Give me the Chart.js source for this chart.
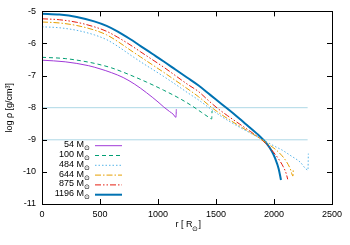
<!DOCTYPE html>
<html>
<head>
<meta charset="utf-8">
<script src="https://cdn.jsdelivr.net/npm/chart.js@4.4.1/dist/chart.umd.min.js"></script>
<style>
  html, body { margin: 0; padding: 0; background: #fff; }
  #wrap { width: 350px; height: 245px; }
</style>
</head>
<body>
<div id="wrap"><canvas id="densityChart" width="350" height="245"></canvas></div>
<script>
// masses shown in the legend (solar masses)
const masses = ['54', '100', '484', '644', '875', '1196'];

// r [R_sun] and log rho for each model
const r54 = [0, 200, 400, 500, 600, 700, 800, 900, 1000, 1050, 1100, 1130, 1155, 1158];
const rho54 = [-6.52, -6.57, -6.69, -6.79, -6.91, -7.06, -7.27, -7.53, -7.82, -7.98, -8.12, -8.2, -8.3, -8.05];

const r100 = [0, 200, 400, 500, 600, 759, 900, 1046, 1200, 1300, 1377, 1430, 1463, 1466];
const rho100 = [-6.43, -6.47, -6.58, -6.66, -6.76, -6.98, -7.2, -7.45, -7.74, -7.96, -8.15, -8.28, -8.35, -8.1];

const r484 = [0, 150, 300, 450, 557, 650, 759, 850, 950, 1050, 1150, 1250, 1350, 1440, 1550, 1660, 1780, 1880, 1940, 1994, 2070, 2138, 2224, 2293, 2296];
const rho484 = [-5.48, -5.51, -5.59, -5.73, -5.88, -6.08, -6.35, -6.57, -6.8, -7.03, -7.27, -7.52, -7.76, -8.0, -8.28, -8.52, -8.76, -8.95, -9.07, -9.18, -9.32, -9.48, -9.69, -9.94, -9.43];

const r644 = [0, 150, 300, 450, 557, 650, 759, 850, 950, 1050, 1150, 1250, 1350, 1465, 1570, 1680, 1790, 1880, 1930, 2023, 2070, 2109, 2140, 2164, 2166];
const rho644 = [-5.33, -5.36, -5.44, -5.58, -5.73, -5.93, -6.2, -6.42, -6.66, -6.9, -7.15, -7.4, -7.66, -8.0, -8.27, -8.52, -8.76, -8.96, -9.08, -9.33, -9.5, -9.69, -9.9, -10.13, -9.9];

const r875 = [0, 150, 300, 450, 557, 650, 759, 850, 950, 1050, 1150, 1250, 1350, 1430, 1500, 1600, 1700, 1800, 1880, 1930, 1994, 2040, 2080, 2105, 2118];
const rho875 = [-5.23, -5.26, -5.34, -5.48, -5.62, -5.8, -6.04, -6.26, -6.5, -6.74, -7.0, -7.26, -7.5, -7.76, -7.98, -8.25, -8.5, -8.75, -8.96, -9.12, -9.38, -9.6, -9.84, -10.05, -10.23];

const r1196 = [0, 150, 300, 450, 557, 650, 759, 850, 950, 1050, 1150, 1250, 1350, 1450, 1550, 1650, 1750, 1850, 1937, 1980, 2010, 2040, 2060];
const rho1196 = [-5.07, -5.1, -5.175, -5.31, -5.45, -5.62, -5.86, -6.08, -6.32, -6.56, -6.81, -7.06, -7.31, -7.6, -7.89, -8.18, -8.49, -8.8, -9.12, -9.35, -9.58, -9.9, -10.25];

// horizontal reference levels
const refLevels = [-8, -9];
const refRange = [0, 2290];

// axis ticks
const xTicks = [0, 500, 1000, 1500, 2000, 2500];
const yTicks = [-5, -6, -7, -8, -9, -10, -11];

const pts = (xs, ys) => xs.map((x, i) => ({ x: x, y: ys[i] }));
const FONT = '"Liberation Sans", Arial, sans-serif';

const curves = [
    { r: r54, rho: rho54, color: '#a03ad8', width: 1, dash: [] },
    { r: r100, rho: rho100, color: '#009e73', width: 1, dash: [4, 3] },
    { r: r484, rho: rho484, color: '#56b4e9', width: 1, dash: [1.5, 2] },
    { r: r644, rho: rho644, color: '#e69f00', width: 1, dash: [6, 2, 1.5, 2] },
    { r: r875, rho: rho875, color: '#e51e10', width: 1, dash: [6, 2, 1.5, 2, 1.5, 2] },
    { r: r1196, rho: rho1196, color: '#0072b2', width: 2, dash: [] }
];

const datasets = curves.map((c, i) => ({
    label: masses[i] + ' M',
    data: pts(c.r, c.rho),
    borderColor: c.color,
    borderWidth: c.width,
    borderDash: c.dash,
    pointRadius: 0,
    cubicInterpolationMode: 'monotone',
    fill: false
}));

refLevels.forEach(lv => {
    datasets.push({
        label: 'ref',
        data: refRange.map(x => ({ x: x, y: lv })),
        borderColor: '#add8e6',
        borderWidth: 1,
        pointRadius: 0,
        tension: 0,
        fill: false
    });
});

// frame, inward ticks, axis titles and legend like gnuplot
const gnuplotLook = {
    id: 'gnuplotLook',
    afterDraw(chart) {
        const ctx = chart.ctx;
        const a = chart.chartArea;
        const xs = chart.scales.x, ys = chart.scales.y;
        ctx.save();
        ctx.strokeStyle = '#000';
        ctx.lineWidth = 1;
        ctx.setLineDash([]);
        ctx.strokeRect(Math.round(a.left) + 0.5, Math.round(a.top) + 0.5,
            Math.round(a.right - a.left), Math.round(a.bottom - a.top));
        ctx.beginPath();
        xTicks.forEach(v => {
            const px = Math.round(xs.getPixelForValue(v)) + 0.5;
            ctx.moveTo(px, a.bottom); ctx.lineTo(px, a.bottom - 5);
            ctx.moveTo(px, a.top); ctx.lineTo(px, a.top + 5);
        });
        yTicks.forEach(v => {
            const py = Math.round(ys.getPixelForValue(v)) + 0.5;
            ctx.moveTo(a.left, py); ctx.lineTo(a.left + 5, py);
            ctx.moveTo(a.right, py); ctx.lineTo(a.right - 5, py);
        });
        ctx.stroke();

        ctx.fillStyle = '#000';
        ctx.textBaseline = 'middle';
        // x title
        const cx = (a.left + a.right) / 2;
        const mainX = 'r [ R';
        ctx.font = '9px ' + FONT;
        const w1 = ctx.measureText(mainX).width;
        ctx.font = '7px ' + FONT;
        const w2 = ctx.measureText('\u2299').width;
        const sx = cx - (w1 + w2) / 2;
        ctx.font = '9px ' + FONT;
        ctx.textAlign = 'left';
        ctx.fillText(mainX, sx, 225);
        ctx.font = '7px ' + FONT;
        ctx.fillText('\u2299', sx + w1, 229);
        ctx.font = '9px ' + FONT;
        ctx.fillText(']', sx + w1 + w2, 225);

        // y title
        ctx.save();
        ctx.translate(10, (a.top + a.bottom) / 2);
        ctx.rotate(-Math.PI / 2);
        ctx.textAlign = 'center';
        ctx.font = '9px ' + FONT;
        ctx.fillText('log \u03c1 [g/cm\u00b3]', 0, 0);
        ctx.restore();

        // legend
        const textRight = 90;
        for (let i = 0; i < curves.length; i++) {
            const ds = chart.data.datasets[i];
            const y = 145.7 + 9.8 * i;
            ctx.font = '7px ' + FONT;
            const ws = ctx.measureText('\u2299').width;
            ctx.font = '9px ' + FONT;
            ctx.textAlign = 'right';
            ctx.textBaseline = 'middle';
            ctx.fillStyle = '#000';
            ctx.fillText(ds.label, textRight - ws, y - 1);
            ctx.font = '7px ' + FONT;
            ctx.textAlign = 'left';
            ctx.fillText('\u2299', textRight - ws, y + 2.5);
            ctx.beginPath();
            ctx.strokeStyle = ds.borderColor;
            ctx.lineWidth = ds.borderWidth;
            ctx.setLineDash(ds.borderDash);
            ctx.moveTo(95, y);
            ctx.lineTo(122, y);
            ctx.stroke();
        }
        ctx.restore();
    }
};

const chart = new Chart(document.getElementById('densityChart').getContext('2d'), {
    type: 'line',
    data: { datasets: datasets },
    options: {
        responsive: false,
        animation: false,
        layout: { padding: { top: 9, right: 18, left: 0, bottom: 0 } },
        scales: {
            x: {
                type: 'linear',
                min: 0,
                max: 2500,
                afterBuildTicks: s => { s.ticks = xTicks.map(v => ({ value: v })); },
                ticks: {
                    color: '#000', font: { size: 9, family: FONT }, padding: 5, maxRotation: 0,
                    callback: v => String(v)
                },
                grid: { display: false, drawTicks: false },
                border: { display: false },
                afterFit: s => { s.height = 41; }
            },
            y: {
                type: 'linear',
                min: -11,
                max: -5,
                afterBuildTicks: s => { s.ticks = yTicks.map(v => ({ value: v })); },
                ticks: {
                    color: '#000', font: { size: 9, family: FONT }, padding: 6,
                    callback: v => String(v)
                },
                grid: { display: false, drawTicks: false },
                border: { display: false },
                afterFit: s => { s.width = 42; }
            }
        },
        plugins: {
            legend: { display: false },
            tooltip: { enabled: false }
        }
    },
    plugins: [gnuplotLook]
});
</script>
</body>
</html>
